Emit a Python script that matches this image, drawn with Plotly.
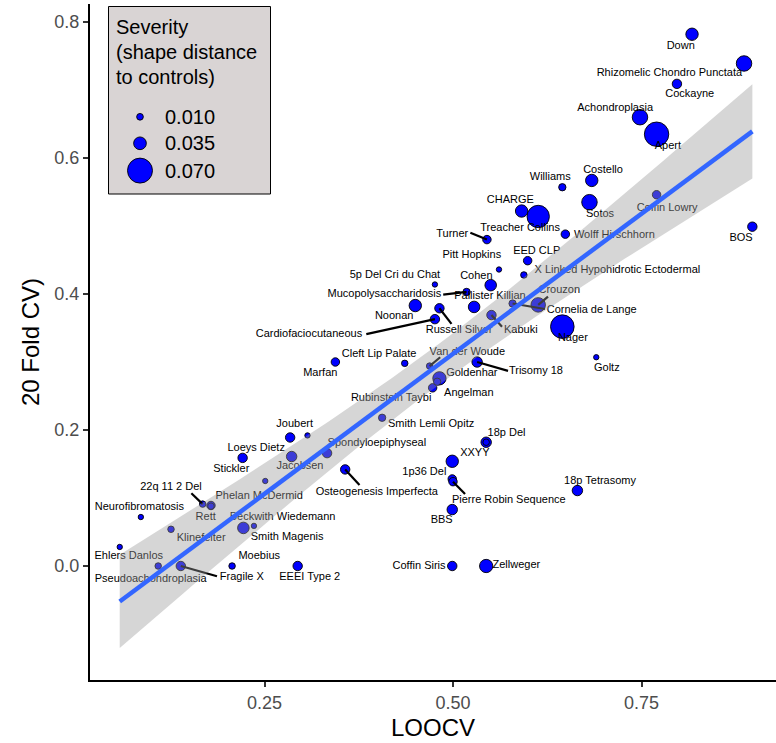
import numpy as np
import plotly.graph_objects as go

# ---------------- data ----------------
syndromes = [
    "Down", "Rhizomelic Chondro Punctata", "Cockayne", "Achondroplasia", "Apert",
    "Costello", "Williams", "Coffin Lowry", "Sotos", "CHARGE",
    "Treacher Collins", "BOS", "Wolff Hirschhorn", "Turner", "EED CLP",
    "Pitt Hopkins", "X Linked Hypohidrotic Ectodermal", "5p Del Cri du Chat", "Cohen", "Mucopolysaccharidosis",
    "Pallister Killian", "Crouzon", "Cornelia de Lange", "Noonan", "Russell Silver",
    "Cardiofaciocutaneous", "Kabuki", "Nager", "Cleft Lip Palate", "Marfan",
    "Van der Woude", "Trisomy 18", "Goldenhar", "Angelman", "Rubinstein Taybi",
    "Goltz", "Smith Lemli Opitz", "18p Del", "XXYY", "1p36 Del",
    "Pierre Robin Sequence", "BBS", "18p Tetrasomy", "Osteogenesis Imperfecta", "Spondyloepiphyseal",
    "Joubert", "", "Loeys Dietz", "Stickler", "Jacobsen",
    "22q 11 2 Del", "Rett", "Phelan McDermid", "Neurofibromatosis", "Klinefelter",
    "Smith Magenis", "Beckwith Wiedemann", "Ehlers Danlos", "Pseudoachondroplasia", "Fragile X",
    "Moebius", "EEEI Type 2", "Coffin Siris", "Zellweger", "",
]
loocv = [
    0.817, 0.886, 0.797, 0.748, 0.770,
    0.684, 0.645, 0.770, 0.681, 0.591,
    0.613, 0.897, 0.649, 0.545, 0.599,
    0.561, 0.594, 0.476, 0.550, 0.518,
    0.528, 0.613, 0.579, 0.450, 0.482,
    0.476, 0.551, 0.645, 0.436, 0.344,
    0.469, 0.532, 0.482, 0.473, 0.479,
    0.690, 0.406, 0.544, 0.499, 0.499,
    0.500, 0.499, 0.665, 0.357, 0.333,
    0.284, 0.307, 0.221, 0.251, 0.286,
    0.168, 0.179, 0.179, 0.086, 0.126,
    0.222, 0.236, 0.058, 0.109, 0.139,
    0.207, 0.294, 0.499, 0.544, 0.544,
]
cv20 = [
    0.782, 0.739, 0.709, 0.660, 0.635,
    0.567, 0.557, 0.546, 0.535, 0.522,
    0.514, 0.499, 0.488, 0.480, 0.449,
    0.436, 0.428, 0.414, 0.413, 0.403,
    0.381, 0.384, 0.386, 0.383, 0.379,
    0.363, 0.369, 0.352, 0.298, 0.300,
    0.294, 0.300, 0.276, 0.262, 0.271,
    0.307, 0.218, 0.182, 0.154, 0.128,
    0.124, 0.083, 0.111, 0.142, 0.166,
    0.189, 0.192, 0.159, 0.125, 0.161,
    0.091, 0.089, 0.088, 0.072, 0.054,
    0.056, 0.059, 0.028, 0.000, 0.000,
    0.000, 0.000, 0.000, 0.000, 0.182,
]
severity = [
    0.036, 0.046, 0.025, 0.046, 0.070,
    0.036, 0.016, 0.021, 0.046, 0.036,
    0.065, 0.025, 0.021, 0.021, 0.021,
    0.006, 0.012, 0.006, 0.033, 0.016,
    0.033, 0.043, 0.016, 0.036, 0.025,
    0.025, 0.025, 0.068, 0.012, 0.021,
    0.012, 0.029, 0.039, 0.021, 0.016,
    0.006, 0.016, 0.029, 0.036, 0.021,
    0.021, 0.029, 0.029, 0.025, 0.025,
    0.025, 0.006, 0.025, 0.006, 0.029,
    0.012, 0.021, 0.012, 0.006, 0.012,
    0.033, 0.006, 0.006, 0.012, 0.025,
    0.012, 0.025, 0.025, 0.039, 0.012,
]

legend_values = [0.010, 0.035, 0.070]
legend_labels = ["0.010", "0.035", "0.070"]
legend_title = ["Severity", "(shape distance", "to controls)"]

x_ticks = [0.25, 0.50, 0.75]
x_ticklabels = ["0.25", "0.50", "0.75"]
y_ticks = [0.0, 0.2, 0.4, 0.6, 0.8]
y_ticklabels = ["0.0", "0.2", "0.4", "0.6", "0.8"]

# ---------------- label placement (repelled positions) ----------------
label_pos = {
    "Down": (0.802, 0.765), "Rhizomelic Chondro Punctata": (0.787, 0.724),
    "Cockayne": (0.814, 0.694), "Achondroplasia": (0.715, 0.673), "Apert": (0.785, 0.618),
    "Costello": (0.699, 0.582), "Williams": (0.629, 0.572), "CHARGE": (0.576, 0.538),
    "Coffin Lowry": (0.784, 0.526), "Sotos": (0.695, 0.518), "Treacher Collins": (0.589, 0.496),
    "Wolff Hirschhorn": (0.714, 0.487), "BOS": (0.882, 0.482), "Turner": (0.499, 0.488),
    "Pitt Hopkins": (0.525, 0.457), "EED CLP": (0.611, 0.463),
    "X Linked Hypohidrotic Ectodermal": (0.718, 0.435), "5p Del Cri du Chat": (0.423, 0.428),
    "Cohen": (0.531, 0.426), "Mucopolysaccharidosis": (0.409, 0.399),
    "Pallister Killian": (0.549, 0.397), "Crouzon": (0.641, 0.406),
    "Cornelia de Lange": (0.684, 0.376), "Noonan": (0.422, 0.368),
    "Russell Silver": (0.508, 0.347), "Cardiofaciocutaneous": (0.309, 0.341),
    "Kabuki": (0.590, 0.347), "Nager": (0.659, 0.335), "Cleft Lip Palate": (0.402, 0.312),
    "Marfan": (0.324, 0.284), "Van der Woude": (0.519, 0.315), "Trisomy 18": (0.610, 0.286),
    "Goldenhar": (0.525, 0.283), "Angelman": (0.521, 0.254), "Goltz": (0.704, 0.291),
    "Rubinstein Taybi": (0.418, 0.247), "Smith Lemli Opitz": (0.471, 0.208),
    "18p Del": (0.571, 0.195), "XXYY": (0.529, 0.166), "Spondyloepiphyseal": (0.399, 0.180),
    "1p36 Del": (0.462, 0.138), "Osteogenesis Imperfecta": (0.399, 0.108),
    "Pierre Robin Sequence": (0.574, 0.097), "18p Tetrasomy": (0.695, 0.124),
    "BBS": (0.485, 0.068), "Joubert": (0.290, 0.209), "Loeys Dietz": (0.239, 0.173),
    "Stickler": (0.206, 0.143), "Jacobsen": (0.297, 0.146), "22q 11 2 Del": (0.126, 0.116),
    "Phelan McDermid": (0.243, 0.103), "Neurofibromatosis": (0.084, 0.086),
    "Rett": (0.172, 0.072), "Beckwith Wiedemann": (0.274, 0.072), "Klinefelter": (0.166, 0.041),
    "Smith Magenis": (0.280, 0.043), "Ehlers Danlos": (0.070, 0.014), "Moebius": (0.243, 0.014),
    "Pseudoachondroplasia": (0.099, -0.020), "Fragile X": (0.220, -0.016),
    "EEEI Type 2": (0.310, -0.016), "Coffin Siris": (0.455, 0.000), "Zellweger": (0.584, 0.001),
}
segment_start = {
    "Turner": (0.523, 0.490), "Mucopolysaccharidosis": (0.487, 0.399),
    "Russell Silver": (0.498, 0.356), "Cardiofaciocutaneous": (0.385, 0.341),
    "Kabuki": (0.565, 0.352), "Crouzon": (0.626, 0.396), "Cornelia de Lange": (0.622, 0.378),
    "Van der Woude": (0.483, 0.307), "Trisomy 18": (0.573, 0.287),
    "Osteogenesis Imperfecta": (0.376, 0.119), "Pierre Robin Sequence": (0.516, 0.106),
    "22q 11 2 Del": (0.153, 0.107), "Fragile X": (0.187, -0.015),
}


def diameter(v):
    v = np.asarray(v, dtype=float)
    return 4.95 + 156.4 * v + 1857.0 * v ** 2


FONT = "Liberation Sans, Arial, sans-serif"
fig = go.Figure()

# points
fig.add_trace(go.Scatter(
    x=loocv, y=cv20, mode="markers", hoverinfo="skip",
    marker=dict(color="#0000FF", size=diameter(severity) - 0.6, opacity=1,
                line=dict(color="black", width=0.9)),
))

# connector segments
sx, sy = [], []
for name, (x0, y0) in segment_start.items():
    i = syndromes.index(name)
    sx += [x0, loocv[i], None]
    sy += [y0, cv20[i], None]
fig.add_trace(go.Scatter(x=sx, y=sy, mode="lines", hoverinfo="skip",
                         line=dict(color="black", width=2.2)))

# labels
names = [n for n in syndromes if n]
fig.add_trace(go.Scatter(
    x=[label_pos[n][0] for n in names], y=[label_pos[n][1] for n in names],
    text=names, mode="text", textposition="middle center", hoverinfo="skip",
    textfont=dict(family=FONT, size=11, color="black"),
))

# linear fit with 95% confidence band
X = np.array(loocv)
Y = np.array(cv20)
n = len(X)
xbar, ybar = X.mean(), Y.mean()
Sxx = ((X - xbar) ** 2).sum()
b1 = ((X - xbar) * (Y - ybar)).sum() / Sxx
b0 = ybar - b1 * xbar
s = np.sqrt(((Y - (b0 + b1 * X)) ** 2).sum() / (n - 2))
T975 = 1.998
xg = np.linspace(X.min(), X.max(), 80)
yg = b0 + b1 * xg
se = s * np.sqrt(1.0 / n + (xg - xbar) ** 2 / Sxx)
fig.add_trace(go.Scatter(
    x=np.concatenate([xg, xg[::-1]]), y=np.concatenate([yg + T975 * se, (yg - T975 * se)[::-1]]),
    fill="toself", fillcolor="rgba(153,153,153,0.4)", mode="lines",
    line=dict(width=0), hoverinfo="skip",
))
fig.add_trace(go.Scatter(x=xg, y=yg, mode="lines", hoverinfo="skip",
                         line=dict(color="#3366FF", width=4.5)))

# ---------------- legend (drawn manually inside the panel) ----------------
W, H = 776, 743
ML, MR, MT, MB = 90, 0, 4, 63
pw, ph = W - ML - MR, H - MT - MB


def px(xp):
    return (xp - ML) / pw


def py(yp):
    return (H - MB - yp) / ph


shapes = [dict(type="rect", xref="paper", yref="paper",
               x0=px(108.5), x1=px(270.5), y0=py(194), y1=py(6.5),
               fillcolor="#D9D4D4", line=dict(color="black", width=1), layer="above")]
annotations = []
for k, line in enumerate(legend_title):
    annotations.append(dict(xref="paper", yref="paper", x=px(114), y=py(27 + 25 * k),
                            xanchor="left", yanchor="middle", showarrow=False, text=line,
                            font=dict(family=FONT, size=20, color="black")))
for k, (v, lab) in enumerate(zip(legend_values, legend_labels)):
    yc = [116.8, 143.3, 170.6][k]
    d = float(diameter(v))
    shapes.append(dict(type="circle", xref="paper", yref="paper",
                       xsizemode="pixel", ysizemode="pixel",
                       xanchor=px(140), yanchor=py(yc),
                       x0=-d / 2, x1=d / 2, y0=-d / 2, y1=d / 2,
                       fillcolor="#0000FF", line=dict(color="black", width=0.9), layer="above"))
    annotations.append(dict(xref="paper", yref="paper", x=px(163), y=py(yc),
                            xanchor="left", yanchor="middle", showarrow=False, text=lab,
                            font=dict(family=FONT, size=20, color="black")))

# axis titles
annotations.append(dict(xref="paper", yref="paper", x=0.5, y=py(727), xanchor="center",
                        yanchor="middle", showarrow=False, text="LOOCV",
                        font=dict(family=FONT, size=24, color="black")))
annotations.append(dict(xref="paper", yref="paper", x=px(30), y=0.5, xanchor="center",
                        yanchor="middle", showarrow=False, text="20 Fold CV)", textangle=-90,
                        font=dict(family=FONT, size=24, color="black")))

x_lo = 0.5 + (ML - 453) / 754
x_hi = 0.5 + (W - MR - 453) / 754
y_lo = (566 - (H - MB)) / 680
y_hi = (566 - MT) / 680

axis_common = dict(showgrid=False, zeroline=False, showline=True, linecolor="black", linewidth=2,
                   ticks="outside", ticklen=5, tickwidth=1.5, tickcolor="#333333", automargin=False,
                   tickfont=dict(family=FONT, size=18, color="#4D4D4D"))
fig.update_layout(
    width=W, height=H, margin=dict(l=ML, r=MR, t=MT, b=MB, autoexpand=False),
    plot_bgcolor="white", paper_bgcolor="white", showlegend=False,
    xaxis=dict(range=[x_lo, x_hi], tickvals=x_ticks, ticktext=x_ticklabels, **axis_common),
    yaxis=dict(range=[y_lo, y_hi], tickvals=y_ticks, ticktext=y_ticklabels, **axis_common),
    shapes=shapes, annotations=annotations,
)
fig.write_html("out.html", config={"displayModeBar": False},
               post_script="document.body.style.margin='0px';document.body.style.overflow='hidden';")
